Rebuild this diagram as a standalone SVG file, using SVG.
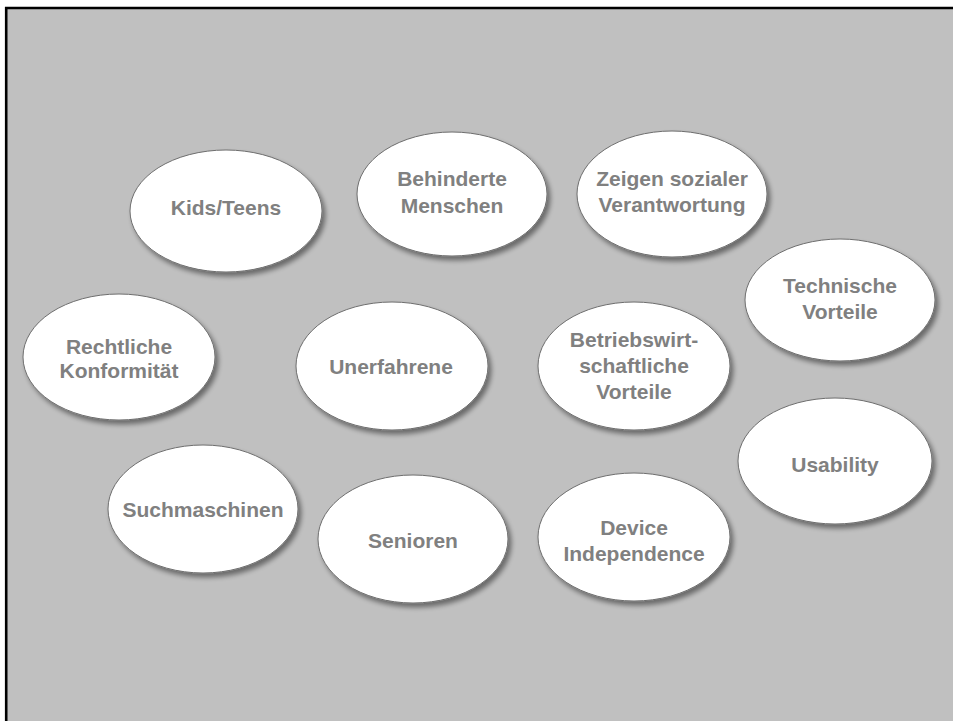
<svg xmlns="http://www.w3.org/2000/svg" width="953" height="721" viewBox="0 0 953 721">
<defs>
<filter id="sh" x="-20%" y="-20%" width="150%" height="150%">
<feGaussianBlur in="SourceAlpha" stdDeviation="2.5"/>
<feOffset dx="3" dy="4" result="b"/>
<feComponentTransfer><feFuncA type="linear" slope="0.45"/></feComponentTransfer>
<feMerge><feMergeNode/><feMergeNode in="SourceGraphic"/></feMerge>
</filter>
</defs>
<style>
.n ellipse{fill:#fff;stroke:#6e6e6e;stroke-width:1;filter:url(#sh)}
.n text{font-family:"Liberation Sans",Arial,sans-serif;font-weight:bold;font-size:21px;fill:#808080;text-anchor:middle}
</style>
<rect x="0" y="0" width="953" height="721" fill="#fff"/>
<rect x="6" y="8" width="947" height="713" fill="#c0c0c0"/>
<path d="M6.2,721 V8 H953" fill="none" stroke="#000" stroke-width="2.6"/>
<g id="connectors"/>
<g id="kids" class="n"><ellipse cx="226" cy="211" rx="96" ry="61"/><text x="226" y="215">Kids/Teens</text></g>
<g id="behinderte" class="n"><ellipse cx="452" cy="194" rx="95" ry="62"/><text x="452" y="186">Behinderte</text><text x="452" y="213">Menschen</text></g>
<g id="zeigen" class="n"><ellipse cx="672" cy="194" rx="95" ry="63"/><text x="672" y="186">Zeigen sozialer</text><text x="672" y="212">Verantwortung</text></g>
<g id="technische" class="n"><ellipse cx="840" cy="300" rx="95" ry="61"/><text x="840" y="293">Technische</text><text x="840" y="319">Vorteile</text></g>
<g id="rechtliche" class="n"><ellipse cx="119" cy="357" rx="96" ry="63"/><text x="119" y="354">Rechtliche</text><text x="119" y="378">Konformität</text></g>
<g id="unerfahrene" class="n"><ellipse cx="392" cy="366" rx="96" ry="64"/><text x="391" y="374">Unerfahrene</text></g>
<g id="betriebswirt" class="n"><ellipse cx="634" cy="366" rx="96" ry="64"/><text x="634" y="347">Betriebswirt-</text><text x="634" y="373">schaftliche</text><text x="634" y="399">Vorteile</text></g>
<g id="usability" class="n"><ellipse cx="835" cy="461" rx="97" ry="63"/><text x="835" y="472">Usability</text></g>
<g id="suchmaschinen" class="n"><ellipse cx="203" cy="509" rx="95" ry="64"/><text x="203" y="517">Suchmaschinen</text></g>
<g id="senioren" class="n"><ellipse cx="413" cy="539" rx="95" ry="64"/><text x="413" y="548">Senioren</text></g>
<g id="device" class="n"><ellipse cx="634" cy="537" rx="96" ry="64"/><text x="634" y="535">Device</text><text x="634" y="561">Independence</text></g>
</svg>
